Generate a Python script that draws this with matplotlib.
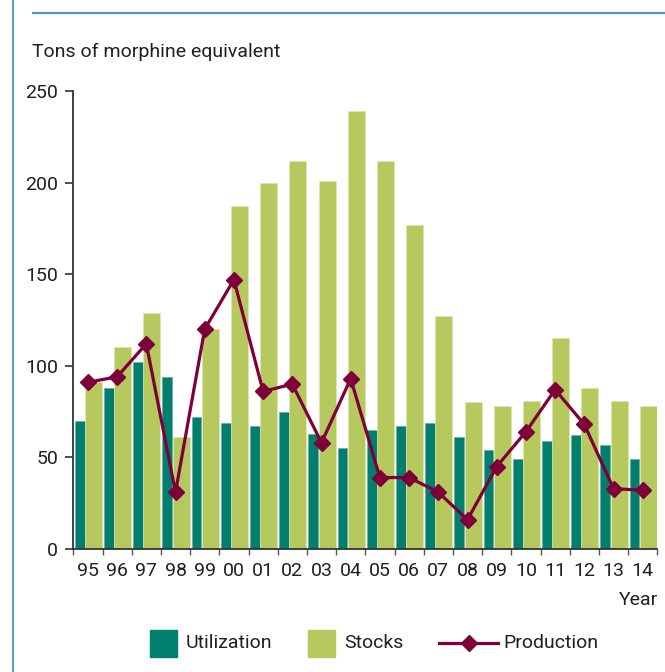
import matplotlib
matplotlib.use("Agg")
import matplotlib.pyplot as plt
from matplotlib.patches import Rectangle
from matplotlib.lines import Line2D
import numpy as np

years = ["95", "96", "97", "98", "99", "00", "01", "02", "03", "04",
         "05", "06", "07", "08", "09", "10", "11", "12", "13", "14"]
utilization = [70, 88, 102, 94, 72, 69, 67, 75, 63, 55,
               65, 67, 69, 61, 54, 49, 59, 62, 57, 49]
stocks = [91, 110, 129, 61, 120, 187, 200, 212, 201, 239,
          212, 177, 127, 80, 78, 81, 115, 88, 81, 78]
production = [91, 94, 112, 31, 120, 147, 86, 90, 58, 93,
              39, 39, 31, 16, 45, 64, 87, 68, 33, 32]
yticks = [0, 50, 100, 150, 200, 250]

C_UTIL = "#007F6E"
C_STOCK = "#B5C95E"
C_PROD = "#7F0038"
C_TEXT = "#231F20"
C_BLUE = "#3A8DC4"

plt.rcParams['font.family'] = ['Liberation Sans Narrow', 'DejaVu Sans Condensed', 'Roboto', 'DejaVu Sans']
FS = 14

W, H = 665, 672
fig = plt.figure(figsize=(W / 100, H / 100), dpi=100)
ax = fig.add_axes([73.3 / W, 1 - 549 / H, 584 / W, 458 / H])

x = np.arange(len(years))
ax.bar(x + 0.05, utilization, width=0.34, align='edge', color=C_UTIL,
       edgecolor='#5FA89C', linewidth=0.4, zorder=2)
ax.bar(x + 0.40, stocks, width=0.58, align='edge', color=C_STOCK,
       edgecolor='#DDE6B0', linewidth=0.5, zorder=2)
ax.plot(x + 0.5, production, color=C_PROD, lw=2.3, marker='D', ms=7.8,
        zorder=3)

ax.set_xlim(0, len(years))
ax.set_ylim(0, 250)
ax.set_yticks(yticks)
ax.set_yticklabels([str(v) for v in yticks])
ax.set_xticks(np.arange(len(years) + 1))
ax.set_xticklabels([])
ax.set_xticks(x + 0.5, minor=True)
ax.set_xticklabels(years, minor=True)
ax.tick_params(axis='x', which='major', length=4, width=1, color='#555555', direction='out')
ax.tick_params(axis='x', which='minor', length=0, pad=9, labelsize=FS, labelcolor=C_TEXT)
ax.tick_params(axis='y', length=6, width=1.2, color='#333333', pad=5,
               labelsize=FS, labelcolor=C_TEXT)
for s in ['top', 'right']:
    ax.spines[s].set_visible(False)
ax.spines['left'].set_color('#333333')
ax.spines['left'].set_linewidth(1.3)
ax.spines['bottom'].set_color('#333333')
ax.spines['bottom'].set_linewidth(1.3)

fig.text(32 / W, 1 - 57 / H, "Tons of morphine equivalent", fontsize=FS,
         color=C_TEXT, ha='left', va='baseline')
fig.text(658 / W, 1 - 605 / H, "Year", fontsize=FS, color=C_TEXT,
         ha='right', va='baseline')

# frame lines
fig.add_artist(Line2D([13 / W, 13 / W], [0, 1], transform=fig.transFigure,
                      color=C_BLUE, lw=1.2))
fig.add_artist(Line2D([33 / W, 1], [1 - 12.5 / H, 1 - 12.5 / H],
                      transform=fig.transFigure, color='#4C9ACB', lw=1.6))

# legend
ly = 643
fig.add_artist(Rectangle((150 / W, 1 - 657 / H), 27 / W, 27 / H,
                         transform=fig.transFigure, color=C_UTIL))
fig.text(186 / W, 1 - ly / H, "Utilization", fontsize=FS, color=C_TEXT,
         ha='left', va='center')
fig.add_artist(Rectangle((308 / W, 1 - 657 / H), 27 / W, 27 / H,
                         transform=fig.transFigure, color=C_STOCK))
fig.text(344 / W, 1 - ly / H, "Stocks", fontsize=FS, color=C_TEXT,
         ha='left', va='center')
fig.add_artist(Line2D([439 / W, 498 / W], [1 - ly / H, 1 - ly / H],
                      transform=fig.transFigure, color=C_PROD, lw=2.3))
fig.add_artist(Line2D([468.5 / W], [1 - ly / H], transform=fig.transFigure,
                      color=C_PROD, marker='D', ms=7.8, lw=0))
fig.text(503 / W, 1 - ly / H, "Production", fontsize=FS, color=C_TEXT,
         ha='left', va='center')

fig.savefig("out.png", dpi=100)
